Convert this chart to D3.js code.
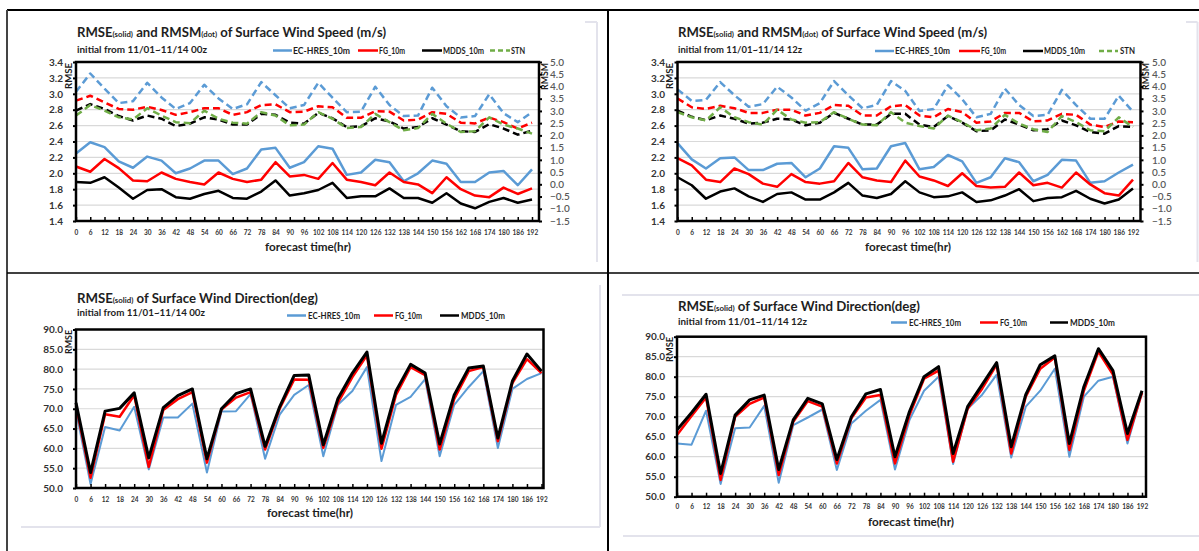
<!DOCTYPE html>
<html>
<head>
<meta charset="utf-8">
<script src="https://cdn.jsdelivr.net/npm/d3@7"></script>
<style>
  body { margin: 0; background: #fff; }
  svg { display: block; }
  text { font-family: Lato, "Open Sans", "DejaVu Sans", sans-serif; white-space: pre; }
</style>
</head>
<body>
<svg id="chart" width="1199" height="551"></svg>
<script>
// ---- categories and tick labels ----
const hours = [0,6,12,18,24,30,36,42,48,54,60,66,72,78,84,90,96,102,108,114,120,126,132,138,144,150,156,162,168,174,180,186,192];
const rmseSpdTicks = [1.4,1.6,1.8,2.0,2.2,2.4,2.6,2.8,3.0,3.2,3.4];
const rmsmSpdTicks = [-1.5,-1.0,-0.5,0.0,0.5,1.0,1.5,2.0,2.5,3.0,3.5,4.0,4.5,5.0];
const dirTicks = [50,55,60,65,70,75,80,85,90];

// ---- wind speed, runs initialised 00z ----
const spdHres00 = [2.25,2.39,2.33,2.15,2.07,2.21,2.16,2.00,2.06,2.16,2.16,1.99,2.06,2.30,2.32,2.07,2.14,2.34,2.31,1.98,2.01,2.17,2.14,1.90,2.00,2.16,2.12,1.89,1.89,2.01,2.03,1.85,2.05];
const spdFg00   = [2.085,2.02,2.18,2.065,1.91,1.90,2.01,1.93,1.89,1.86,2.01,1.93,1.89,1.92,2.14,1.96,1.98,1.93,2.13,1.92,1.89,1.85,2.01,1.89,1.86,1.75,1.95,1.80,1.72,1.70,1.82,1.74,1.81];
const spdMdds00 = [1.89,1.88,1.95,1.82,1.68,1.79,1.80,1.70,1.68,1.74,1.78,1.69,1.68,1.77,1.91,1.72,1.75,1.79,1.88,1.69,1.71,1.71,1.81,1.69,1.69,1.63,1.75,1.62,1.56,1.64,1.69,1.63,1.67];
const rmsmHres00 = [3.78,4.53,3.91,3.32,3.40,4.15,3.55,3.08,3.32,4.07,3.51,3.08,3.27,4.18,3.64,3.11,3.24,4.15,3.54,2.95,2.97,3.99,3.24,2.79,2.81,3.95,3.19,2.73,2.79,3.68,2.91,2.54,2.95];
const rmsmFg00   = [3.42,3.62,3.35,3.08,3.05,3.17,3.04,2.84,2.95,3.11,3.11,2.84,2.95,3.24,3.27,2.95,2.97,3.19,3.15,2.72,2.72,2.99,2.97,2.61,2.64,2.95,2.88,2.52,2.49,2.73,2.54,2.28,2.52];
const rmsmMdds00 = [3.01,3.28,3.08,2.79,2.61,2.81,2.68,2.38,2.48,2.74,2.65,2.44,2.44,2.88,2.84,2.52,2.48,2.92,2.70,2.34,2.37,2.70,2.57,2.28,2.34,2.70,2.44,2.17,2.14,2.46,2.28,2.03,2.19];
const rmsmStn00  = [2.81,3.24,3.01,2.74,2.65,3.11,2.81,2.54,2.50,3.01,2.68,2.52,2.48,2.95,2.81,2.41,2.44,2.95,2.68,2.30,2.34,2.88,2.54,2.21,2.30,2.88,2.48,2.14,2.17,2.74,2.44,2.28,2.07];

// ---- wind speed, runs initialised 12z ----
const spdHres12 = [2.38,2.175,2.06,2.19,2.20,2.04,2.04,2.12,2.13,1.95,2.06,2.34,2.32,2.05,2.06,2.34,2.38,2.05,2.08,2.23,2.15,1.88,1.95,2.19,2.14,1.90,1.98,2.17,2.16,1.88,1.90,2.01,2.11];
const spdFg12   = [2.19,2.10,1.92,1.89,2.06,1.99,1.87,1.83,1.99,1.89,1.87,1.90,2.13,1.95,1.91,1.89,2.16,1.96,1.91,1.84,2.00,1.84,1.82,1.83,2.01,1.85,1.88,1.82,2.01,1.86,1.75,1.72,1.92];
const spdMdds12 = [1.95,1.85,1.68,1.77,1.81,1.71,1.64,1.74,1.76,1.67,1.67,1.76,1.88,1.72,1.69,1.74,1.90,1.76,1.70,1.71,1.76,1.64,1.66,1.72,1.80,1.65,1.69,1.70,1.78,1.68,1.62,1.67,1.81];
const rmsmHres12 = [3.88,3.41,3.45,4.18,3.64,3.17,3.28,3.99,3.55,3.01,3.32,4.22,3.64,3.11,3.24,4.22,3.82,3.00,3.08,4.05,3.48,2.74,2.88,3.91,3.24,2.79,2.84,3.86,3.24,2.68,2.68,3.62,2.97];
const rmsmFg12   = [3.51,3.15,3.08,3.21,3.11,2.92,2.92,3.05,3.05,2.81,2.92,3.24,3.21,2.81,2.81,3.19,3.24,2.81,2.74,3.08,2.95,2.52,2.57,2.92,2.92,2.57,2.61,2.88,2.84,2.44,2.34,2.57,2.54];
const rmsmMdds12 = [3.01,2.76,2.62,2.81,2.68,2.48,2.52,2.68,2.65,2.41,2.52,2.92,2.68,2.44,2.44,2.88,2.88,2.44,2.34,2.79,2.52,2.17,2.21,2.65,2.44,2.21,2.25,2.61,2.41,2.14,2.07,2.38,2.34];
const rmsmStn12  = [2.95,2.74,2.61,3.15,2.74,2.54,2.44,3.05,2.65,2.52,2.54,2.95,2.68,2.44,2.41,2.95,2.52,2.38,2.28,2.81,2.54,2.21,2.28,2.84,2.48,2.25,2.14,2.79,2.54,2.21,2.17,2.74,2.34];

// ---- wind direction RMSE (deg) ----
const dirHres00 = [69.5,51.0,65.4,64.5,70.5,54.7,67.8,67.8,71.3,53.9,69.3,69.4,73.7,57.4,68.5,73.5,76.0,58.0,71.0,74.5,80.5,56.8,71.0,73.0,77.5,58.0,71.0,75.5,79.5,60.1,75.0,77.5,79.0];
const dirFg00   = [70.8,52.6,68.6,68.0,73.4,55.3,69.7,72.4,74.2,56.4,69.8,72.8,74.2,59.7,70.0,77.4,77.3,60.1,71.5,78.0,83.5,59.9,73.5,80.5,78.5,59.7,72.5,79.5,80.5,61.8,76.5,82.5,79.0];
const dirMdds00 = [71.5,53.9,69.4,70.1,74.0,57.6,70.3,73.3,75.0,57.4,70.0,73.8,75.0,60.5,70.5,78.4,78.5,60.9,72.5,79.0,84.3,61.3,74.5,81.2,79.0,61.1,73.5,80.3,80.8,62.6,77.0,83.8,79.5];
const dirHres12 = [63.3,63.0,71.5,53.2,67.1,67.3,72.7,53.5,67.9,69.8,71.8,56.7,68.3,71.5,74.2,56.8,69.2,76.5,80.0,58.2,72.0,75.5,80.5,59.8,72.5,76.5,82.0,60.0,75.0,79.0,80.0,63.3,76.0];
const dirFg12   = [65.4,70.2,74.8,54.2,70.0,73.2,74.8,55.4,68.75,73.9,72.5,58.3,69.6,74.8,75.4,58.3,70.4,79.5,81.5,58.75,72.0,77.0,83.0,60.8,75.0,82.0,84.8,61.7,76.5,86.3,80.5,64.2,76.0];
const dirMdds12 = [66.7,71.0,75.6,55.8,70.4,74.2,75.4,56.8,69.2,74.6,73.2,59.3,70.0,75.7,76.8,60.0,71.3,80.0,82.5,60.8,72.5,78.0,83.5,62.5,75.5,83.0,85.2,63.3,77.5,87.0,81.5,65.8,76.5];

// ---- colours ----
const BLUE = "#5b9bd5", RED = "#ff0000", BLACK = "#000000", GREEN = "#70ad47";

const svg = d3.select("#chart");

// ---- table frame ----
const frame = svg.append("g");
frame.append("line").attr("x1", 7).attr("x2", 1199).attr("y1", 10).attr("y2", 10).attr("stroke", "#000").attr("stroke-width", 2);
frame.append("line").attr("x1", 7).attr("x2", 7).attr("y1", 10).attr("y2", 551).attr("stroke", "#444").attr("stroke-width", 2);
frame.append("line").attr("x1", 608).attr("x2", 608).attr("y1", 10).attr("y2", 551).attr("stroke", "#000").attr("stroke-width", 2);
frame.append("line").attr("x1", 7).attr("x2", 1199).attr("y1", 273).attr("y2", 273).attr("stroke", "#000").attr("stroke-width", 1.5);

// faint chart-area borders
const edge = (x1, y1, x2, y2) => frame.append("line").attr("x1", x1).attr("y1", y1).attr("x2", x2).attr("y2", y2)
  .attr("stroke", "#e3e3ec").attr("stroke-width", 2);
edge(597, 22, 597, 262); edge(585, 22, 597, 22);
edge(1197.5, 22, 1197.5, 262); edge(1186, 22, 1197.5, 22);
edge(600, 285, 600, 527); edge(21, 527, 600, 527);
edge(622, 295, 1199, 295); edge(623, 536, 1199, 536);

function addTitle(x, y, parts, len) {
  const t = svg.append("text").attr("x", x).attr("y", y).attr("font-weight", 700).attr("fill", "#1e1e1e")
    .attr("textLength", len).attr("lengthAdjust", "spacingAndGlyphs");
  parts.forEach(p => t.append("tspan").attr("font-size", p[1]).text(p[0]));
}

function addText(x, y, str, size, len, opts = {}) {
  const t = svg.append("text").attr("x", x).attr("y", y).attr("font-size", size).attr("font-weight", opts.weight || 700)
    .attr("fill", opts.fill || "#1e1e1e").attr("text-anchor", opts.anchor || "start").text(str);
  if (len) t.attr("textLength", len).attr("lengthAdjust", "spacingAndGlyphs");
  return t;
}

function vLabel(x, y, str, len) {
  svg.append("text").attr("transform", `translate(${x},${y}) rotate(-90)`).attr("text-anchor", "end")
    .attr("font-size", 8.5).attr("font-weight", 700).attr("fill", "#1e1e1e")
    .attr("textLength", len).attr("lengthAdjust", "spacingAndGlyphs").text(str);
}

function legend(y, items) {
  const g = svg.append("g");
  items.forEach(it => {
    g.append("line").attr("x1", it.l0).attr("x2", it.l1).attr("y1", y).attr("y2", y)
      .attr("stroke", it.color).attr("stroke-width", 2.5).attr("stroke-dasharray", it.dash || null);
    g.append("text").attr("x", it.t0).attr("y", y + 3).attr("font-size", 8.5).attr("font-weight", 700)
      .attr("fill", "#1e1e1e").attr("textLength", it.tw).attr("lengthAdjust", "spacingAndGlyphs").text(it.label);
  });
}

function panel(cfg) {
  const g = svg.append("g");
  const x = d3.scalePoint().domain(hours).range([cfg.x0, cfg.xEnd]);
  const yL = d3.scaleLinear().domain(d3.extent(cfg.leftTicks)).range([cfg.y1, cfg.y0]);
  const yR = cfg.rightTicks ? d3.scaleLinear().domain(d3.extent(cfg.rightTicks)).range([cfg.y1, cfg.y0]) : null;

  // horizontal gridlines
  g.append("g").selectAll("line").data(cfg.leftTicks.slice(1, -1)).join("line")
    .attr("x1", cfg.x0).attr("x2", cfg.x1)
    .attr("y1", d => yL(d)).attr("y2", d => yL(d))
    .attr("stroke", "#d9d9d9").attr("stroke-width", 1.2);

  // series
  cfg.series.forEach(s => {
    const ys = s.axis === "right" ? yR : yL;
    g.append("path").datum(s.values)
      .attr("d", d3.line().x((d, i) => x(hours[i])).y(d => ys(d)))
      .attr("fill", "none").attr("stroke", s.color).attr("stroke-width", s.width)
      .attr("stroke-dasharray", s.dash || null).attr("stroke-linejoin", "round");
  });

  // plot frame
  g.append("rect").attr("x", cfg.x0).attr("y", cfg.y0).attr("width", cfg.x1 - cfg.x0).attr("height", cfg.y1 - cfg.y0)
    .attr("fill", "none").attr("stroke", "#000").attr("stroke-width", 2.5);

  // left axis
  const la = g.append("g").attr("transform", `translate(${cfg.x0},0)`)
    .call(d3.axisLeft(yL).tickValues(cfg.leftTicks).tickFormat(d3.format(".1f")).tickSize(3).tickPadding(cfg.lpad));
  la.select(".domain").remove();
  la.selectAll("line").attr("stroke", "#000").attr("stroke-width", 2);
  la.selectAll("text").attr("font-size", 10).attr("font-weight", 700).attr("fill", "#333");

  // right axis
  if (yR) {
    const ra = g.append("g").attr("transform", `translate(${cfg.x1},0)`)
      .call(d3.axisRight(yR).tickValues(cfg.rightTicks).tickFormat(d3.format(".1f")).tickSize(3).tickPadding(cfg.rpad));
    ra.select(".domain").remove();
    ra.selectAll("line").attr("stroke", "#000").attr("stroke-width", 2);
    ra.selectAll("text").attr("font-size", 10).attr("font-weight", 600).attr("fill", "#595959");
  }

  // category axis
  const xa = g.append("g").attr("transform", `translate(0,${cfg.y1})`)
    .call(d3.axisBottom(x).tickSize(-4));
  xa.select(".domain").remove();
  xa.selectAll("line").attr("stroke", "#000").attr("stroke-width", 1.5);
  xa.selectAll("text").attr("y", cfg.xlabOff).attr("dy", 0).attr("font-size", 6.5).attr("font-weight", 700).attr("fill", "#333");

  addText(cfg.xTitleX, cfg.xTitleY, "forecast time(hr)", 12, 86, { anchor: "middle" });
}

// ---- panel 1: wind speed, 00z ----
addTitle(77, 37.3, [["RMSE", 13.5], ["(solid)", 8], [" and RMSM", 13.5], ["(dot)", 8], [" of Surface Wind Speed (m/s)", 13.5]], 309);
addText(77, 52.5, "initial from 11/01~11/14 00z", 9.5, 130);
legend(50.5, [
  { label: "EC-HRES_10m", color: BLUE, l0: 273, l1: 292, t0: 293, tw: 57 },
  { label: "FG_10m", color: RED, l0: 358, l1: 378, t0: 379, tw: 26 },
  { label: "MDDS_10m", color: BLACK, l0: 422, l1: 442, t0: 443, tw: 41 },
  { label: "STN", color: GREEN, dash: "5,3", l0: 490, l1: 510, t0: 511, tw: 14 }
]);
vLabel(72, 63, "RMSE", 26);
vLabel(548, 63, "RMSM", 27);
panel({
  x0: 76, x1: 539, xEnd: 532, y0: 62, y1: 221, lpad: 10, rpad: 8, xlabOff: 14,
  leftTicks: rmseSpdTicks, rightTicks: rmsmSpdTicks, xTitleX: 308, xTitleY: 251,
  series: [
    { values: rmsmHres00, color: BLUE, width: 2.5, dash: "7,4", axis: "right" },
    { values: rmsmFg00, color: RED, width: 2.5, dash: "7,4", axis: "right" },
    { values: rmsmMdds00, color: BLACK, width: 2.5, dash: "7,4", axis: "right" },
    { values: rmsmStn00, color: GREEN, width: 2.5, dash: "7,4", axis: "right" },
    { values: spdHres00, color: BLUE, width: 2.5 },
    { values: spdFg00, color: RED, width: 2.5 },
    { values: spdMdds00, color: BLACK, width: 2.5 }
  ]
});

// ---- panel 2: wind speed, 12z ----
addTitle(678, 37.3, [["RMSE", 13.5], ["(solid)", 8], [" and RMSM", 13.5], ["(dot)", 8], [" of Surface Wind Speed (m/s)", 13.5]], 309);
addText(678, 52.5, "initial from 11/01~11/14 12z", 9.5, 124);
legend(51, [
  { label: "EC-HRES_10m", color: BLUE, l0: 875, l1: 894, t0: 895, tw: 55 },
  { label: "FG_10m", color: RED, l0: 959, l1: 980, t0: 981, tw: 25 },
  { label: "MDDS_10m", color: BLACK, l0: 1023, l1: 1043, t0: 1044, tw: 41 },
  { label: "STN", color: GREEN, dash: "5,3", l0: 1099, l1: 1118, t0: 1120, tw: 15 }
]);
vLabel(673, 63, "RMSE", 26);
vLabel(1149, 63, "RMSM", 27);
panel({
  x0: 677.5, x1: 1140.5, xEnd: 1133, y0: 62, y1: 221, lpad: 9.5, rpad: 8.5, xlabOff: 14,
  leftTicks: rmseSpdTicks, rightTicks: rmsmSpdTicks, xTitleX: 908, xTitleY: 251,
  series: [
    { values: rmsmHres12, color: BLUE, width: 2.5, dash: "7,4", axis: "right" },
    { values: rmsmFg12, color: RED, width: 2.5, dash: "7,4", axis: "right" },
    { values: rmsmMdds12, color: BLACK, width: 2.5, dash: "7,4", axis: "right" },
    { values: rmsmStn12, color: GREEN, width: 2.5, dash: "7,4", axis: "right" },
    { values: spdHres12, color: BLUE, width: 2.5 },
    { values: spdFg12, color: RED, width: 2.5 },
    { values: spdMdds12, color: BLACK, width: 2.5 }
  ]
});

// ---- panel 3: wind direction, 00z ----
addTitle(77, 303.3, [["RMSE", 13.5], ["(solid)", 8], [" of Surface Wind Direction(deg)", 13.5]], 241);
addText(77, 316, "initial from 11/01~11/14 00z", 9.5, 128);
legend(315.5, [
  { label: "EC-HRES_10m", color: BLUE, l0: 287, l1: 306, t0: 308, tw: 52 },
  { label: "FG_10m", color: RED, l0: 374, l1: 393, t0: 395, tw: 27 },
  { label: "MDDS_10m", color: BLACK, l0: 440, l1: 459, t0: 461, tw: 44 }
]);
vLabel(72, 330, "RMSE", 24);
panel({
  x0: 76, x1: 543.5, xEnd: 541.5, y0: 329.5, y1: 488, lpad: 10, xlabOff: 14,
  leftTicks: dirTicks, xTitleX: 310, xTitleY: 517,
  series: [
    { values: dirHres00, color: BLUE, width: 2 },
    { values: dirFg00, color: RED, width: 2.5 },
    { values: dirMdds00, color: BLACK, width: 3 }
  ]
});

// ---- panel 4: wind direction, 12z ----
addTitle(678, 310.7, [["RMSE", 13.5], ["(solid)", 8], [" of Surface Wind Direction(deg)", 13.5]], 242);
addText(678, 325, "initial from 11/01~11/14 12z", 9.5, 129);
legend(322.5, [
  { label: "EC-HRES_10m", color: BLUE, l0: 891, l1: 907, t0: 909, tw: 52 },
  { label: "FG_10m", color: RED, l0: 980, l1: 998, t0: 1000, tw: 27 },
  { label: "MDDS_10m", color: BLACK, l0: 1050, l1: 1068, t0: 1070, tw: 45 }
]);
vLabel(673, 337, "RMSE", 25);
panel({
  x0: 677, x1: 1146, xEnd: 1142, y0: 336.7, y1: 496.7, lpad: 9, xlabOff: 12.5,
  leftTicks: dirTicks, xTitleX: 911, xTitleY: 526,
  series: [
    { values: dirHres12, color: BLUE, width: 2 },
    { values: dirFg12, color: RED, width: 2.5 },
    { values: dirMdds12, color: BLACK, width: 3 }
  ]
});
</script>
</body>
</html>
